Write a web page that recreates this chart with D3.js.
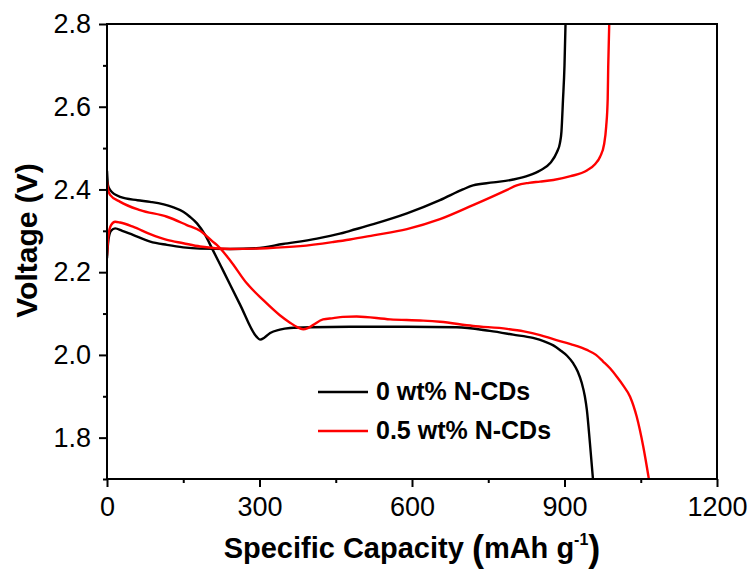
<!DOCTYPE html>
<html>
<head>
<meta charset="utf-8">
<script src="https://cdn.jsdelivr.net/npm/d3@7"></script>
<style>
  html, body { margin: 0; padding: 0; background: #fff; }
  svg { display: block; font-family: Arial, "Liberation Sans", sans-serif; }
</style>
</head>
<body>
<svg id="chart" width="754" height="569"></svg>
<script>
// Galvanostatic charge/discharge profiles: [capacity (mAh/g), voltage (V)]
const seriesNames = ["0 wt% N-CDs", "0.5 wt% N-CDs"];
const seriesColors = ["#000000", "#ff0000"];

const discharge0 = [
  [0, 2.445], [2, 2.41], [6, 2.399], [26, 2.382], [60, 2.374], [85, 2.370],
  [128, 2.358], [150, 2.346], [163, 2.334], [177, 2.318], [193, 2.290],
  [208, 2.254], [228, 2.205], [262, 2.121], [294, 2.044], [301, 2.037],
  [310, 2.042], [321, 2.053], [340, 2.061], [360, 2.065], [400, 2.067],
  [478, 2.068], [590, 2.068], [688, 2.067], [753, 2.058], [799, 2.049],
  [838, 2.041], [860, 2.033], [878, 2.023], [891, 2.012], [905, 1.998],
  [917, 1.980], [926, 1.960], [934, 1.932], [940, 1.900], [944, 1.867],
  [950, 1.787], [956, 1.700]
];
const charge0 = [
  [0, 2.234], [3, 2.280], [8, 2.300], [16, 2.306], [30, 2.300], [51, 2.290],
  [85, 2.274], [118, 2.266], [150, 2.260], [183, 2.257], [242, 2.256],
  [294, 2.258], [346, 2.268], [413, 2.281], [458, 2.293], [478, 2.300],
  [524, 2.316], [590, 2.342], [655, 2.374], [700, 2.400], [720, 2.410],
  [760, 2.417], [799, 2.424], [830, 2.434], [852, 2.446], [872, 2.464],
  [885, 2.490], [891, 2.512], [894, 2.540], [897, 2.616], [900, 2.700],
  [902, 2.800]
];
const discharge05 = [
  [0, 2.420], [2, 2.400], [6, 2.387], [26, 2.370], [65, 2.350], [118, 2.334],
  [157, 2.314], [183, 2.300], [208, 2.274], [216, 2.266], [242, 2.229],
  [275, 2.173], [307, 2.133], [340, 2.096], [360, 2.078], [373, 2.068],
  [386, 2.062], [395, 2.065], [405, 2.072], [425, 2.086], [445, 2.089],
  [464, 2.092], [491, 2.093], [557, 2.086], [622, 2.083], [655, 2.080],
  [720, 2.070], [787, 2.063], [820, 2.057], [852, 2.048], [878, 2.038],
  [912, 2.026], [944, 2.012], [962, 2.000], [976, 1.984], [990, 1.967],
  [1003, 1.947], [1016, 1.925], [1029, 1.899], [1042, 1.851], [1055, 1.778],
  [1066, 1.700]
];
const charge05 = [
  [0, 2.240], [3, 2.290], [8, 2.314], [16, 2.322], [26, 2.320], [51, 2.310],
  [85, 2.292], [118, 2.278], [150, 2.270], [183, 2.262], [242, 2.256],
  [314, 2.258], [380, 2.263], [445, 2.273], [478, 2.279], [524, 2.289],
  [590, 2.304], [655, 2.328], [720, 2.362], [787, 2.399], [806, 2.410],
  [830, 2.416], [852, 2.419], [878, 2.423], [912, 2.432], [944, 2.446],
  [960, 2.461], [970, 2.479], [978, 2.510], [982, 2.552], [985, 2.620],
  [986, 2.697], [988, 2.800]
];

const xMajorTicks = [0, 300, 600, 900, 1200];
const xMinorTicks = [150, 450, 750, 1050];
const yMajorTicks = [1.8, 2.0, 2.2, 2.4, 2.6, 2.8];
const yMinorTicks = [1.7, 1.9, 2.1, 2.3, 2.5, 2.7];

const svg = d3.select("#chart");
const plot = { left: 107, right: 717, top: 24, bottom: 479 };

const x = d3.scaleLinear().domain([0, 1200]).range([plot.left, plot.right]);
const y = d3.scaleLinear().domain([1.7, 2.8]).range([plot.bottom, plot.top]);

svg.append("defs").append("clipPath").attr("id", "clip")
  .append("rect")
  .attr("x", plot.left).attr("y", plot.top)
  .attr("width", plot.right - plot.left).attr("height", plot.bottom - plot.top);

// Curves
const line = d3.line()
  .x(d => x(d[0])).y(d => y(d[1]))
  .curve(d3.curveMonotoneX);

const curves = [
  { data: discharge0, color: seriesColors[0] },
  { data: charge0, color: seriesColors[0] },
  { data: discharge05, color: seriesColors[1] },
  { data: charge05, color: seriesColors[1] }
];
svg.append("g").attr("clip-path", "url(#clip)")
  .selectAll("path").data(curves).join("path")
  .attr("d", d => line(d.data))
  .attr("fill", "none")
  .attr("stroke", d => d.color)
  .attr("stroke-width", 2.4)
  .attr("stroke-linejoin", "round");

// Axes
function styleAxis(g) {
  g.select(".domain").remove();
  g.selectAll("line").attr("stroke", "#000").attr("stroke-width", 2);
  g.selectAll("text").attr("fill", "#000")
    .attr("font-size", 27).attr("font-family", "Arial, 'Liberation Sans', sans-serif");
}

svg.append("g")
  .attr("transform", `translate(0,${plot.bottom})`)
  .call(d3.axisBottom(x).tickValues(xMajorTicks).tickSize(8).tickPadding(10)
    .tickFormat(d3.format("d")))
  .call(styleAxis);
svg.append("g")
  .attr("transform", `translate(0,${plot.bottom})`)
  .call(d3.axisBottom(x).tickValues(xMinorTicks).tickSize(4).tickFormat(""))
  .call(styleAxis);

svg.append("g")
  .attr("transform", `translate(${plot.left},0)`)
  .call(d3.axisLeft(y).tickValues(yMajorTicks).tickSize(8).tickPadding(8)
    .tickFormat(d3.format(".1f")))
  .call(styleAxis);
svg.append("g")
  .attr("transform", `translate(${plot.left},0)`)
  .call(d3.axisLeft(y).tickValues(yMinorTicks).tickSize(4).tickFormat(""))
  .call(styleAxis);

// Frame
svg.append("rect")
  .attr("x", plot.left).attr("y", plot.top)
  .attr("width", plot.right - plot.left).attr("height", plot.bottom - plot.top)
  .attr("fill", "none").attr("stroke", "#000").attr("stroke-width", 2);

// Axis titles
svg.append("text")
  .attr("transform", `translate(37,${(plot.top + plot.bottom) / 2 - 11}) rotate(-90)`)
  .attr("text-anchor", "middle")
  .attr("font-size", 30).attr("font-weight", "bold")
  .text("Voltage (V)");

const xt = svg.append("text")
  .attr("x", (plot.left + plot.right) / 2).attr("y", 558)
  .attr("text-anchor", "middle")
  .attr("font-size", 29).attr("font-weight", "bold");
xt.append("tspan").text("Specific Capacity ");
xt.append("tspan").attr("font-size", 36).attr("dy", 3).text("(");
xt.append("tspan").attr("dy", -3).text("mAh g");
xt.append("tspan").attr("font-size", 16).attr("dy", -13).text("-1");
xt.append("tspan").attr("font-size", 36).attr("dy", 16).text(")");

// Legend
const legend = svg.append("g");
const legendRows = [0, 1].map(i => ({ name: seriesNames[i], color: seriesColors[i], cy: 392 + i * 39 }));
legend.selectAll("line").data(legendRows).join("line")
  .attr("x1", 318).attr("x2", 368)
  .attr("y1", d => d.cy).attr("y2", d => d.cy)
  .attr("stroke", d => d.color).attr("stroke-width", 2.4);
legend.selectAll("text").data(legendRows).join("text")
  .attr("x", 376).attr("y", d => d.cy + 8)
  .attr("font-size", 25).attr("font-weight", "bold")
  .text(d => d.name);
</script>
</body>
</html>
